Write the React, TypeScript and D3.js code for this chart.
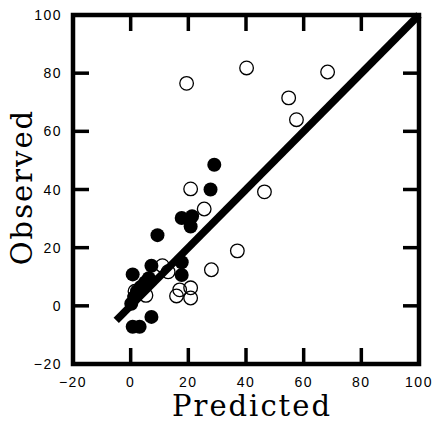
import React from "react";
import * as d3 from "d3";

const ticks = [-20, 0, 20, 40, 60, 80, 100];
const innerTicks = [0, 20, 40, 60, 80];

const filledX = [29, 27.7, 17.7, 21.3, 20.8, 9.3, 17.7, 17.7, 7.2, 0.7, 1.2, 2.2, 3.5, 5, 6.3, 0.2, 0.7, 3.1, 7.2];
const filledY = [48.5, 40, 30.2, 30.8, 27.3, 24.3, 15, 10.6, 13.8, 10.8, 3, 5, 6.5, 8, 9.5, 0.7, -7.2, -7.2, -3.8];

const openX = [19.4, 40.2, 68.3, 54.8, 57.5, 46.4, 20.8, 25.5, 28, 37, 11, 13, 15.9, 17, 20.8, 20.8, 5.3, 1.5];
const openY = [76.5, 81.8, 80.4, 71.5, 64, 39.2, 40.2, 33.3, 12.4, 18.9, 13.8, 11.7, 3.4, 5.5, 6.2, 2.7, 3.6, 5];

const lineX = [-5, 100];

export default function App() {
  const W = 432, H = 422;
  const x = d3.scaleLinear().domain([-20, 100]).range([73, 419]);
  const y = d3.scaleLinear().domain([-20, 100]).range([364, 15]);
  const tickLen = 16;
  const line = d3.line<number>().x((d) => x(d)).y((d) => y(d));
  const numFont = { fontFamily: "'Liberation Sans', Arial, sans-serif", fontSize: 14, letterSpacing: 1.5 };
  const titleFont = { fontFamily: "'DejaVu Serif', serif", fontSize: 29, letterSpacing: 2 };
  return (
    <svg width={W} height={H} style={{ position: "absolute", left: 0, top: 0, background: "#fff" }}>
      {filledX.map((v, i) => (
        <circle key={"f" + i} cx={x(v)} cy={y(filledY[i])} r={7} fill="#000" />
      ))}
      {openX.map((v, i) => (
        <circle key={"o" + i} cx={x(v)} cy={y(openY[i])} r={6.8} fill="none" stroke="#000" strokeWidth={1.3} />
      ))}
      <path d={line(lineX) || ""} stroke="#000" strokeWidth={7.5} fill="none" strokeLinecap="butt" />
      <rect x={x(-20)} y={y(100)} width={x(100) - x(-20)} height={y(-20) - y(100)} fill="none" stroke="#000" strokeWidth={4.5} />
      {innerTicks.map((t) => (
        <g key={"t" + t} stroke="#000" strokeWidth={3.5}>
          <line x1={x(t)} x2={x(t)} y1={y(-20)} y2={y(-20) - tickLen} />
          <line x1={x(t)} x2={x(t)} y1={y(100)} y2={y(100) + tickLen} />
          <line x1={x(-20)} x2={x(-20) + tickLen} y1={y(t)} y2={y(t)} />
          <line x1={x(100)} x2={x(100) - tickLen} y1={y(t)} y2={y(t)} />
        </g>
      ))}
      {ticks.map((t) => (
        <text key={"xl" + t} x={x(t)} y={387} textAnchor="middle" style={numFont}>
          {t < 0 ? "\u2212" + Math.abs(t) : t}
        </text>
      ))}
      {ticks.map((t) => (
        <text key={"yl" + t} x={62} y={y(t) + 5} textAnchor="end" style={numFont}>
          {t < 0 ? "\u2212" + Math.abs(t) : t}
        </text>
      ))}
      <text x={252} y={416} textAnchor="middle" style={titleFont}>Predicted</text>
      <text transform={`translate(32,187) rotate(-90)`} textAnchor="middle" style={titleFont}>Observed</text>
    </svg>
  );
}
